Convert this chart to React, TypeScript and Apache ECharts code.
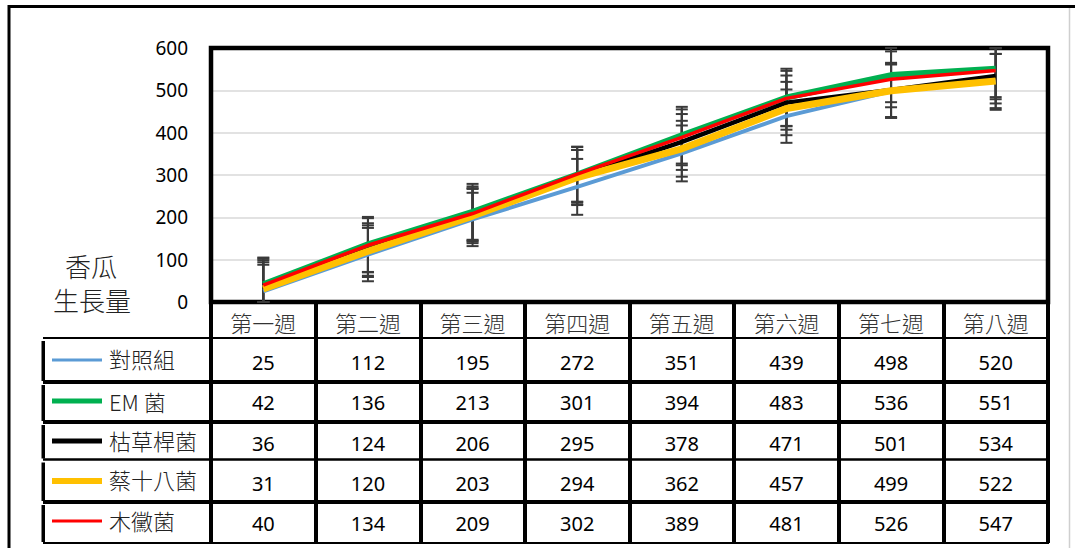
import React, { useEffect, useRef } from "react";
import * as echarts from "echarts";

const weeks = ["第一週", "第二週", "第三週", "第四週", "第五週", "第六週", "第七週", "第八週"];
const seriesNames = ["對照組", "EM 菌", "枯草桿菌", "蔡十八菌", "木黴菌"];
const control = [25, 112, 195, 272, 351, 439, 498, 520];
const emBac = [42, 136, 213, 301, 394, 483, 536, 551];
const bacillus = [36, 124, 206, 295, 378, 471, 501, 534];
const cai18 = [31, 120, 203, 294, 362, 457, 499, 522];
const trichoderma = [40, 134, 209, 302, 389, 481, 526, 547];
const yTicks = [0, 100, 200, 300, 400, 500, 600];

// error bar half-lengths
const errControl = [63, 63, 63, 66, 66, 63, 63, 66];
const errEm = [63, 65, 66, 65, 67, 68, 64, 67];
const errBacillus = [63, 62, 63, 64, 66, 64, 64, 65];
const errCai18 = [63, 61, 64, 65, 66, 63, 64, 64];
const errTrichoderma = [63, 64, 64, 65, 66, 65, 66, 68];

const allValues = [control, emBac, bacillus, cai18, trichoderma];
const allErrors = [errControl, errEm, errBacillus, errCai18, errTrichoderma];
const colors = ["#5B9BD5", "#00B050", "#000000", "#FFC000", "#FF0000"];
const lineWidths = [4, 6, 4.5, 7, 3.5];
const keyWidths = [3, 5, 5, 6, 3];

const NUM_FONT = "'Noto Sans', 'Open Sans', sans-serif";
const CJK_FONT = "'Noto Sans CJK TC', 'Noto Sans CJK SC', sans-serif";

export default function App() {
  const ref = useRef<HTMLDivElement>(null);
  useEffect(() => {
    if (!ref.current) return;
    const chart = echarts.init(ref.current, null, { renderer: "svg" });

    const gridTop = 48;
    const gridBottomY = 302;
    const gridLeft = 211;
    const gridRightX = 1048;
    const rowCenters = [362, 402, 443, 483, 523];
    const labelCenters = [358, 401, 440, 479, 520];
    const keyCenters = [360, 401, 441, 481, 521];

    const xAxes: any[] = [
      {
        type: "category",
        data: weeks,
        position: "bottom",
        boundaryGap: true,
        axisLine: { show: false },
        axisTick: {
          show: true,
          interval: 0,
          length: 241,
          lineStyle: { color: "#000", width: 4 },
        },
        axisLabel: {
          interval: 0,
          fontSize: 22,
          fontFamily: CJK_FONT,
          fontWeight: 300,
          color: "#333",
          margin: 20,
          verticalAlign: "middle",
        },
      },
    ];
    allValues.forEach((vals, k) => {
      xAxes.push({
        type: "category",
        data: weeks,
        position: "bottom",
        boundaryGap: true,
        axisLine: { show: false },
        axisTick: { show: false },
        axisLabel: {
          interval: 0,
          fontSize: 20,
          fontFamily: NUM_FONT,
          color: "#000",
          margin: rowCenters[k] - gridBottomY,
          verticalAlign: "middle",
          formatter: (_v: string, idx: number) => String(vals[idx]),
        },
      });
    });

    const lineSeries = allValues.map((vals, k) => ({
      name: seriesNames[k],
      type: "line",
      xAxisIndex: 0,
      data: vals,
      symbol: "none",
      z: 5 + k,
      lineStyle: { color: colors[k], width: lineWidths[k], join: "round" },
      itemStyle: { color: colors[k] },
    }));

    const errSeries = allValues.map((vals, k) => ({
      name: seriesNames[k] + "-err",
      type: "custom",
      xAxisIndex: 0,
      z: 3,
      data: vals.map((v, i) => [i, Math.max(0, v - allErrors[k][i]), Math.min(600, v + allErrors[k][i])]),
      renderItem: (params: any, api: any) => {
        const lo = api.coord([api.value(0), api.value(1)]);
        const hi = api.coord([api.value(0), api.value(2)]);
        const x = lo[0];
        const half = 6;
        const st = { stroke: "#3a3a3a", lineWidth: 2 };
        return {
          type: "group",
          children: [
            { type: "line", shape: { x1: x, y1: hi[1], x2: x, y2: lo[1] }, style: st },
            { type: "line", shape: { x1: x - half, y1: hi[1], x2: x + half, y2: hi[1] }, style: st },
            { type: "line", shape: { x1: x - half, y1: lo[1], x2: x + half, y2: lo[1] }, style: st },
          ],
        };
      },
    }));

    const graphics: any[] = [];
    // outer frame
    graphics.push({ type: "line", shape: { x1: 8, y1: 6.5, x2: 1075, y2: 6.5 }, style: { stroke: "#000", lineWidth: 3 } });
    graphics.push({ type: "line", shape: { x1: 9, y1: 5, x2: 9, y2: 548 }, style: { stroke: "#000", lineWidth: 3 } });
    graphics.push({ type: "line", shape: { x1: 1069.5, y1: 8, x2: 1069.5, y2: 548 }, style: { stroke: "#cfcfcf", lineWidth: 1.5 } });
    // plot area frame
    graphics.push({
      type: "rect",
      z: 1,
      shape: { x: gridLeft, y: gridTop, width: gridRightX - gridLeft, height: gridBottomY - gridTop },
      style: { fill: "none", stroke: "#000", lineWidth: 4.5 },
    });
    // table horizontal lines
    const hLines = [
      [338, 2],
      [382, 4],
      [422, 4],
      [459.5, 2.5],
      [502, 4],
      [543, 2],
    ];
    hLines.forEach(([y, w]) => {
      graphics.push({ type: "line", z: 10, shape: { x1: 43, y1: y, x2: 1049, y2: y }, style: { stroke: "#000", lineWidth: w } });
    });
    // legend column left segments
    const rowBounds = [338, 382, 422, 459.5, 502, 543];
    for (let k = 0; k < 5; k++) {
      graphics.push({
        type: "rect",
        z: 10,
        shape: { x: 41.5, y: rowBounds[k] + 3, width: 3.5, height: rowBounds[k + 1] - rowBounds[k] - 4 },
        style: { fill: "#000" },
      });
      graphics.push({
        type: "line",
        z: 10,
        shape: { x1: 52, y1: keyCenters[k], x2: 102, y2: keyCenters[k] },
        style: { stroke: colors[k], lineWidth: keyWidths[k] },
      });
      graphics.push({
        type: "text",
        z: 10,
        x: 109,
        y: labelCenters[k],
        style: {
          text: seriesNames[k],
          fontSize: 22,
          fontFamily: CJK_FONT,
          fontWeight: 300,
          fill: "#222",
          textAlign: "left",
          textVerticalAlign: "middle",
        },
      });
    }
    // y axis title
    graphics.push({
      type: "text",
      x: 91,
      y: 265,
      style: { text: "香瓜", fontSize: 26, fontFamily: CJK_FONT, fontWeight: 300, fill: "#222", textAlign: "center", textVerticalAlign: "middle" },
    });
    graphics.push({
      type: "text",
      x: 92,
      y: 299,
      style: { text: "生長量", fontSize: 26, fontFamily: CJK_FONT, fontWeight: 300, fill: "#222", textAlign: "center", textVerticalAlign: "middle" },
    });

    chart.setOption({
      animation: false,
      backgroundColor: "#fff",
      grid: {
        left: gridLeft,
        right: 1075 - gridRightX,
        top: gridTop,
        bottom: 548 - gridBottomY,
        show: false,
        containLabel: false,
      },
      xAxis: xAxes,
      yAxis: {
        type: "value",
        min: yTicks[0],
        max: yTicks[yTicks.length - 1],
        interval: 100,
        axisLine: { show: false },
        axisTick: { show: false },
        axisLabel: { fontSize: 19, fontFamily: NUM_FONT, color: "#000", margin: 23 },
        splitLine: { show: true, lineStyle: { color: "#d9d9d9", width: 1.5 } },
      },
      series: [...errSeries, ...lineSeries],
      graphic: graphics,
    });
    return () => chart.dispose();
  }, []);
  return <div ref={ref} style={{ position: "fixed", left: 0, top: 0, width: 1075, height: 548 }} />;
}
